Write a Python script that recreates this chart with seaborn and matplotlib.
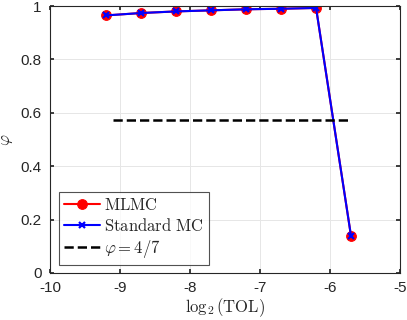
import matplotlib
matplotlib.use("Agg")
import matplotlib.pyplot as plt
import seaborn as sns
import pandas as pd
import numpy as np

log2_tol = [-9.2, -8.7, -8.2, -7.7, -7.2, -6.7, -6.2, -5.7]
phi_mlmc = [0.965, 0.974, 0.980, 0.984, 0.988, 0.990, 0.993, 0.137]
phi_std = [0.965, 0.974, 0.980, 0.984, 0.988, 0.990, 0.993, 0.137]
ref_x = [-9.1, -5.7]
ref_phi = 4 / 7

sns.set_theme(style="whitegrid")
plt.rcParams['font.family'] = ['Liberation Sans', 'DejaVu Sans']
plt.rcParams['mathtext.fontset'] = 'cm'

fig = plt.figure(figsize=(4.07, 3.2), dpi=100)
ax = fig.add_axes([0.123, 0.147, 0.860, 0.834])

df1 = pd.DataFrame({"x": log2_tol, "y": phi_mlmc})
df2 = pd.DataFrame({"x": log2_tol, "y": phi_std})
df3 = pd.DataFrame({"x": ref_x, "y": [ref_phi] * len(ref_x)})

sns.lineplot(data=df1, x="x", y="y", ax=ax, color="red", marker="o",
             markersize=7, markeredgecolor="red", markerfacecolor="red",
             linewidth=1.5, label=r"$\mathrm{MLMC}$")
sns.lineplot(data=df2, x="x", y="y", ax=ax, color="blue", marker="x",
             markersize=4.5, markeredgewidth=1.6, markeredgecolor="blue",
             linewidth=1.5, label=r"$\mathrm{Standard\ MC}$")
sns.lineplot(data=df3, x="x", y="y", ax=ax, color="black", linestyle="--",
             linewidth=1.8, label=r"$\varphi = 4/7$")

ax.set_xlim(-10, -5)
ax.set_ylim(0, 1)
ax.set_xticks([-10, -9, -8, -7, -6, -5])
ax.set_xticklabels(["-10", "-9", "-8", "-7", "-6", "-5"])
ax.set_yticks([0, 0.2, 0.4, 0.6, 0.8, 1])
ax.set_yticklabels(["0", "0.2", "0.4", "0.6", "0.8", "1"])
ax.tick_params(labelsize=11, colors="#262626", length=3, direction="in",
               bottom=True, left=True, top=True, right=True)
ax.tick_params(axis="x", pad=6)
ax.tick_params(axis="y", pad=6)
ax.grid(True, color="#e6e6e6", linewidth=0.7)
ax.set_facecolor("white")
for s in ax.spines.values():
    s.set_color("#262626")
    s.set_linewidth(0.8)

ax.set_xlabel(r"$\log_2(\mathrm{TOL})$", fontsize=12, color="#262626", labelpad=1)
ax.set_ylabel(r"$\varphi$", fontsize=12, color="#262626", labelpad=4)

leg = ax.legend(loc="lower left", bbox_to_anchor=(0.025, 0.03), fontsize=12,
                frameon=True, fancybox=False, edgecolor="#262626",
                handlelength=2.2, handletextpad=0.2, borderpad=0.3,
                labelspacing=0.25, borderaxespad=0.0)
leg.get_frame().set_linewidth(0.8)

fig.savefig("out.png", dpi=100)
